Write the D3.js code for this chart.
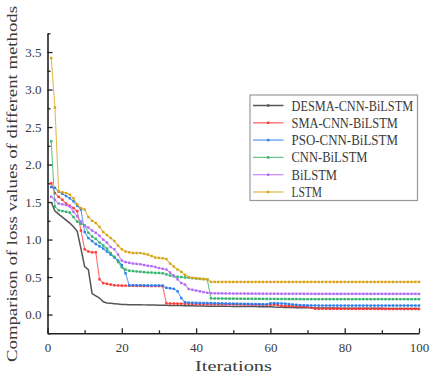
<!DOCTYPE html>
<html>
<head>
<meta charset="utf-8">
<script src="https://cdn.jsdelivr.net/npm/d3@7"></script>
<style>
  body { margin: 0; background: #fff; }
  text { font-family: "Liberation Serif", serif; fill: #3a3a3a; }
</style>
</head>
<body>
<script>
// Series names and colours
let names = ["DESMA-CNN-BiLSTM", "SMA-CNN-BiLSTM", "PSO-CNN-BiLSTM", "CNN-BiLSTM", "BiLSTM", "LSTM"];
let colors = ["#555555", "#ff3636", "#2d7ff0", "#33b36b", "#b36bf5", "#d9a316"];

// Loss values for iterations 1..100
let desma = [1.50,1.38,1.34,1.30,1.26,1.22,1.17,1.11,0.88,0.64,
  0.60,0.28,0.25,0.22,0.17,0.155,0.15,0.145,0.14,0.135,
  0.133,0.132,0.131,0.130,0.130,0.129,0.128,0.127,0.126,0.125,
  0.124,0.123,0.122,0.121,0.120,0.119,0.118,0.117,0.116,0.115,
  0.114,0.113,0.112,0.112,0.111,0.111,0.110,0.110,0.109,0.109,
  0.108,0.108,0.107,0.107,0.106,0.106,0.105,0.105,0.104,0.104,
  0.100,0.098,0.096,0.095,0.094,0.093,0.092,0.091,0.090,0.090,
  0.089,0.088,0.088,0.087,0.087,0.086,0.086,0.086,0.085,0.085,
  0.085,0.085,0.084,0.084,0.084,0.084,0.083,0.083,0.083,0.083,
  0.082,0.082,0.082,0.082,0.082,0.081,0.081,0.081,0.080,0.080];
let sma = [1.75,1.62,1.57,1.53,1.48,1.45,1.42,1.38,1.12,0.87,
  0.84,0.83,0.83,0.47,0.42,0.41,0.40,0.39,0.388,0.386,
  0.385,0.384,0.383,0.382,0.382,0.381,0.381,0.380,0.380,0.380,
  0.379,0.150,0.148,0.147,0.146,0.145,0.144,0.143,0.142,0.141,
  0.140,0.140,0.139,0.139,0.138,0.138,0.137,0.137,0.136,0.136,
  0.135,0.135,0.134,0.134,0.133,0.133,0.132,0.132,0.131,0.131,
  0.130,0.130,0.118,0.116,0.114,0.112,0.110,0.108,0.106,0.104,
  0.090,0.078,0.077,0.077,0.077,0.076,0.076,0.076,0.076,0.076,
  0.075,0.075,0.075,0.075,0.075,0.075,0.075,0.075,0.075,0.075,
  0.074,0.074,0.074,0.074,0.074,0.074,0.074,0.074,0.074,0.074];
let pso = [1.70,1.69,1.64,1.61,1.58,1.55,1.51,1.45,1.40,1.10,
  1.02,0.98,0.94,0.91,0.88,0.84,0.80,0.76,0.72,0.66,
  0.55,0.39,0.390,0.390,0.389,0.389,0.388,0.388,0.388,0.387,
  0.387,0.356,0.350,0.343,0.310,0.220,0.165,0.160,0.158,0.156,
  0.155,0.154,0.153,0.152,0.151,0.150,0.149,0.148,0.147,0.146,
  0.145,0.144,0.143,0.142,0.141,0.140,0.139,0.138,0.137,0.150,
  0.152,0.150,0.148,0.146,0.140,0.135,0.130,0.126,0.124,0.122,
  0.121,0.121,0.120,0.120,0.120,0.120,0.120,0.120,0.120,0.120,
  0.120,0.120,0.120,0.120,0.120,0.120,0.120,0.120,0.120,0.120,
  0.120,0.120,0.120,0.120,0.120,0.120,0.120,0.120,0.120,0.120];
let cnn = [2.31,1.44,1.39,1.38,1.37,1.36,1.30,1.24,1.21,1.19,
  1.09,1.04,1.01,0.96,0.92,0.88,0.82,0.77,0.70,0.63,
  0.60,0.585,0.58,0.575,0.57,0.565,0.56,0.56,0.555,0.555,
  0.55,0.535,0.52,0.51,0.505,0.50,0.495,0.49,0.485,0.48,
  0.475,0.472,0.470,0.215,0.214,0.214,0.213,0.213,0.212,0.212,
  0.211,0.211,0.210,0.210,0.210,0.209,0.209,0.209,0.208,0.208,
  0.208,0.207,0.207,0.207,0.206,0.206,0.206,0.206,0.205,0.205,
  0.205,0.205,0.205,0.205,0.205,0.205,0.205,0.205,0.205,0.205,
  0.205,0.205,0.205,0.205,0.205,0.205,0.205,0.205,0.205,0.205,
  0.205,0.205,0.205,0.205,0.205,0.205,0.205,0.205,0.205,0.205];
let bilstm = [1.57,1.53,1.48,1.47,1.46,1.44,1.37,1.31,1.24,1.18,
  1.16,1.12,1.09,1.05,1.00,0.96,0.90,0.87,0.80,0.72,
  0.70,0.69,0.68,0.675,0.67,0.66,0.65,0.645,0.635,0.62,
  0.61,0.60,0.56,0.52,0.47,0.42,0.40,0.34,0.33,0.32,
  0.31,0.30,0.29,0.285,0.283,0.282,0.282,0.281,0.281,0.280,
  0.280,0.280,0.280,0.279,0.279,0.279,0.279,0.278,0.278,0.278,
  0.278,0.278,0.277,0.277,0.277,0.277,0.277,0.277,0.277,0.277,
  0.276,0.276,0.276,0.276,0.276,0.276,0.276,0.276,0.276,0.276,
  0.276,0.276,0.276,0.276,0.276,0.276,0.276,0.276,0.276,0.276,
  0.276,0.276,0.276,0.276,0.276,0.276,0.276,0.276,0.276,0.276];
let lstm = [3.42,2.76,1.64,1.63,1.62,1.60,1.55,1.47,1.42,1.40,
  1.30,1.25,1.22,1.17,1.10,1.06,1.02,0.98,0.92,0.87,
  0.84,0.83,0.82,0.82,0.82,0.81,0.80,0.78,0.76,0.755,
  0.75,0.74,0.68,0.64,0.60,0.57,0.53,0.50,0.49,0.485,
  0.48,0.475,0.47,0.435,0.435,0.435,0.435,0.435,0.435,0.435,
  0.435,0.435,0.435,0.435,0.435,0.435,0.435,0.435,0.435,0.435,
  0.435,0.435,0.435,0.435,0.435,0.435,0.435,0.435,0.435,0.435,
  0.435,0.435,0.435,0.435,0.435,0.435,0.435,0.435,0.435,0.435,
  0.435,0.435,0.435,0.435,0.435,0.435,0.435,0.435,0.435,0.435,
  0.435,0.435,0.435,0.435,0.435,0.435,0.435,0.435,0.435,0.435];

let xTicks = [0, 20, 40, 60, 80, 100];
let yTicks = [0.0, 0.5, 1.0, 1.5, 2.0, 2.5, 3.0, 3.5];

let allSeries = [desma, sma, pso, cnn, bilstm, lstm];

let width = 435, height = 378;
let svg = d3.select("body").append("svg")
  .attr("width", width)
  .attr("height", height);

let x = d3.scaleLinear().domain([0, 100]).range([47.5, 419]);
let y = d3.scaleLinear().domain([-0.25, 3.75]).range([333.3, 33.3]);

// Axes with inward ticks
svg.append("g")
  .attr("transform", "translate(0," + y(-0.25) + ")")
  .call(d3.axisBottom(x).tickValues(xTicks).tickSizeInner(-5).tickSizeOuter(0).tickPadding(9)
    .tickFormat(d3.format("d")));
svg.append("g")
  .attr("transform", "translate(0," + y(-0.25) + ")")
  .call(d3.axisBottom(x).tickValues([10, 30, 50, 70, 90]).tickSize(-3).tickFormat(""))
  .select(".domain").remove();

svg.append("g")
  .attr("transform", "translate(" + x(0) + ",0)")
  .call(d3.axisLeft(y).tickValues(yTicks).tickSizeInner(-5).tickSizeOuter(0).tickPadding(6)
    .tickFormat(d3.format(".1f")));
svg.append("g")
  .attr("transform", "translate(" + x(0) + ",0)")
  .call(d3.axisLeft(y).tickValues([-0.25, 0.25, 0.75, 1.25, 1.75, 2.25, 2.75, 3.25, 3.75]).tickSize(-3).tickFormat(""))
  .select(".domain").remove();

svg.selectAll(".domain").attr("stroke", "#222").attr("stroke-width", 1.6);
svg.selectAll(".tick line").attr("stroke", "#222").attr("stroke-width", 1.3);
svg.selectAll(".tick text")
  .style("font-family", "Liberation Serif")
  .style("font-size", "13px")
  .attr("fill", "#444");

// Lines and markers
let line = d3.line()
  .x((d, i) => x(i + 1))
  .y((d) => y(d));

allSeries.forEach((s, k) => {
  svg.append("path")
    .datum(s)
    .attr("fill", "none")
    .attr("stroke", colors[k])
    .attr("stroke-opacity", k === 0 ? 1 : 0.75)
    .attr("stroke-width", k === 0 ? 1.5 : 1.1)
    .attr("d", line);
  if (k > 0) {
    svg.selectAll(".m" + k)
      .data(s).enter()
      .append("rect")
        .attr("x", (d, i) => x(i + 1) - 1.2)
        .attr("y", (d) => y(d) - 1.2)
        .attr("width", 2.4)
        .attr("height", 2.4)
        .attr("fill", colors[k]);
  }
});

// Legend
let legend = svg.append("g");
legend.append("rect")
  .attr("x", 250).attr("y", 95)
  .attr("width", 167.5).attr("height", 105.5)
  .attr("fill", "#fff")
  .attr("stroke", "#999")
  .attr("stroke-width", 1.2);

names.forEach((n, k) => {
  let ly = 105.5 + k * 17.3;
  legend.append("line")
    .attr("x1", 253).attr("x2", 283.5)
    .attr("y1", ly).attr("y2", ly)
    .attr("stroke", colors[k])
    .attr("stroke-opacity", k === 0 ? 1 : 0.75)
    .attr("stroke-width", k === 0 ? 1.5 : 1.3);
  legend.append("rect")
    .attr("x", 267).attr("y", ly - 1.2)
    .attr("width", 2.4).attr("height", 2.4)
    .attr("fill", colors[k]);
  legend.append("text")
    .attr("x", 291.5).attr("y", ly + 5)
    .attr("textLength", n.length * 7.6)
    .attr("lengthAdjust", "spacingAndGlyphs")
    .style("font-size", "14px")
    .text(n);
});

// Axis labels
svg.append("text")
  .attr("x", 233.5).attr("y", 371)
  .attr("text-anchor", "middle")
  .attr("textLength", 77)
  .attr("lengthAdjust", "spacingAndGlyphs")
  .style("font-size", "15px")
  .text("Iterations");

svg.append("text")
  .attr("transform", "translate(17,184) rotate(-90)")
  .attr("text-anchor", "middle")
  .attr("textLength", 356)
  .attr("lengthAdjust", "spacingAndGlyphs")
  .style("font-size", "15px")
  .text("Comparison of loss values of different methods");
</script>
</body>
</html>
